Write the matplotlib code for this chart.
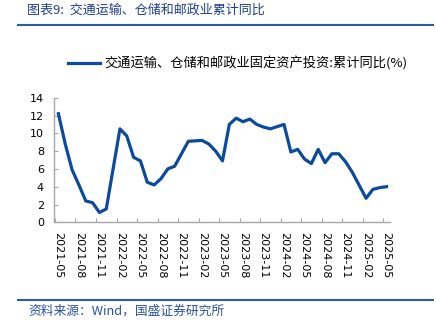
import matplotlib
matplotlib.use("Agg")
import matplotlib.pyplot as plt
from matplotlib.lines import Line2D

plt.rcParams['font.family'] = ['Noto Sans CJK SC', 'DejaVu Sans']
plt.rcParams['axes.unicode_minus'] = False

# 交通运输、仓储和邮政业固定资产投资累计同比(%)，1月不公布
months = ["2021-05", "2021-06", "2021-07", "2021-08", "2021-09", "2021-10", "2021-11", "2021-12",
          "2022-02", "2022-03", "2022-04", "2022-05", "2022-06", "2022-07", "2022-08", "2022-09",
          "2022-10", "2022-11", "2022-12",
          "2023-02", "2023-03", "2023-04", "2023-05", "2023-06", "2023-07", "2023-08", "2023-09",
          "2023-10", "2023-11", "2023-12",
          "2024-02", "2024-03", "2024-04", "2024-05", "2024-06", "2024-07", "2024-08", "2024-09",
          "2024-10", "2024-11", "2024-12",
          "2025-02", "2025-03", "2025-04", "2025-05"]
values = [12.2, 8.8, 5.9, 4.2, 2.4, 2.2, 1.1, 1.5,
          10.5, 9.7, 7.3, 6.9, 4.5, 4.2, 4.9, 6.0,
          6.3, 7.7, 9.1,
          9.2, 8.8, 8.0, 6.9, 11.0, 11.7, 11.3, 11.6,
          11.0, 10.7, 10.5,
          11.0, 7.9, 8.2, 7.1, 6.6, 8.2, 6.7, 7.7,
          7.7, 6.8, 5.6,
          2.7, 3.7, 3.9, 4.0]
tick_labels = ["2021-05", "2021-08", "2021-11", "2022-02", "2022-05", "2022-08", "2022-11",
               "2023-02", "2023-05", "2023-08", "2023-11", "2024-02", "2024-05", "2024-08",
               "2024-11", "2025-02", "2025-05"]
series_name = "交通运输、仓储和邮政业固定资产投资:累计同比(%)"
title_text = "图表9:  交通运输、仓储和邮政业累计同比"
source_text = "资料来源：Wind，国盛证券研究所"


def month_index(s):
    y, m = s.split("-")
    return (int(y) - 2021) * 12 + int(m) - 5


x = [month_index(m) for m in months]
tick_pos = [month_index(t) for t in tick_labels]

line_color = "#0B4A9C"
axis_color = "#A6A6A6"
brand_blue = "#2E5BA8"

fig = plt.figure(figsize=(4.36, 3.30), dpi=100)
ax = fig.add_axes([54.3 / 436, 1 - 222.3 / 330, (390 - 54.3) / 436, (222.3 - 97.7) / 330])

ax.plot(x, values, color=line_color, lw=2.3, solid_joinstyle='round', label=series_name)

ax.set_ylim(0, 14)
ax.set_yticks(range(0, 15, 2))
ax.set_xlim(-0.6, 48.5)

# labels at category centres, tick marks between categories
ax.set_xticks(tick_pos)
ax.set_xticklabels(tick_labels, rotation=270, fontsize=8, family='DejaVu Sans')
ax.set_xticks([p - 0.5 for p in tick_pos], minor=True)
ax.tick_params(axis='x', which='major', length=0, pad=7)
ax.tick_params(axis='x', which='minor', direction='in', length=3, color=axis_color, width=0.8)
ax.tick_params(axis='y', direction='in', length=3, color=axis_color, width=0.8,
               labelsize=8, pad=7.5)
for lab in ax.get_yticklabels():
    lab.set_family('DejaVu Sans')

for side in ('top', 'right'):
    ax.spines[side].set_visible(False)
for side in ('left', 'bottom'):
    ax.spines[side].set_color(axis_color)
    ax.spines[side].set_linewidth(1.0)

ax.legend(loc='center left', bbox_to_anchor=(68 / 436, 1 - 63.3 / 330),
          bbox_transform=fig.transFigure, frameon=False, fontsize=9.5,
          handlelength=2.45, handletextpad=0.3, borderpad=0, borderaxespad=0)

# header and footer
fig.text(27 / 436, 1 - 10.5 / 330, title_text, fontsize=9.4, color="#1F3F8F",
         style='italic', va='center', ha='left')
fig.add_artist(Line2D([18 / 436, 433 / 436], [1 - 24.5 / 330] * 2,
                      transform=fig.transFigure, color=brand_blue, lw=1.5))
fig.add_artist(Line2D([18 / 436, 433 / 436], [1 - 300 / 330] * 2,
                      transform=fig.transFigure, color=brand_blue, lw=1.5))
fig.text(28 / 436, 1 - 311 / 330, source_text, fontsize=9.2, color="#2A52A0",
         style='italic', va='center', ha='left')

fig.savefig("out.png", dpi=100)
